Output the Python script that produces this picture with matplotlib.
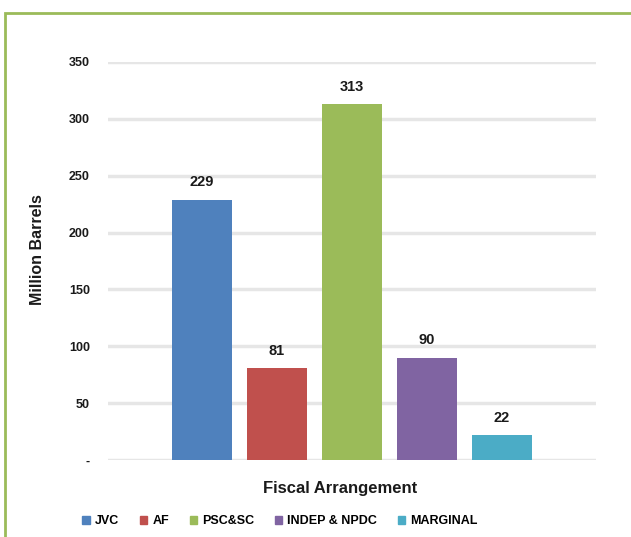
import matplotlib.pyplot as plt
import matplotlib.patches as mpatches
import numpy as np

# data
categories = ['JVC', 'AF', 'PSC&SC', 'INDEP & NPDC', 'MARGINAL']
reserves = [229, 81, 313, 90, 22]
colors = ['#4f81bd', '#c0504d', '#9bbb59', '#8064a2', '#4bacc6']
yticks = [0, 50, 100, 150, 200, 250, 300, 350]
ytick_labels = ['-', '50', '100', '150', '200', '250', '300', '350']

plt.rcParams['font.family'] = ['Liberation Sans', 'DejaVu Sans']

fig = plt.figure(figsize=(6.31, 5.37), dpi=100)

# green frame around the chart
frame = mpatches.Rectangle((5 / 631, -0.05), 1.0, 1 - 13 / 537 + 0.05,
                           transform=fig.transFigure, fill=False,
                           edgecolor='#9bbb59', linewidth=2)
fig.patches.append(frame)

ax = fig.add_axes([108 / 631, 1 - 460 / 537, 488 / 631, 398 / 537])

x = np.arange(len(categories))
bars = ax.bar(x, reserves, width=0.787, color=colors)

for xi, v in zip(x, reserves):
    ax.text(xi, v + 9, str(v), ha='center', va='bottom',
            fontsize=10.5, fontweight='bold', color='#1a1a1a')

ax.set_xlim(-1.253, 5.253)
ax.set_ylim(0, 350)
ax.set_yticks(yticks)
ax.set_yticklabels(ytick_labels, fontsize=9, fontweight='bold', color='#1a1a1a')
ax.set_xticks([])
ax.tick_params(axis='y', length=0, pad=13)

ax.grid(axis='y', color='#e6e6e6', linewidth=2.5)
ax.set_axisbelow(True)
for s in ax.spines.values():
    s.set_visible(False)

fig.text(38 / 631, 1 - 250 / 537, 'Million Barrels', ha='center', va='center',
         rotation=90, fontsize=11.5, fontweight='bold', color='#1a1a1a')
fig.text(340 / 631, 1 - 488 / 537, 'Fiscal Arrangement', ha='center', va='center',
         fontsize=12, fontweight='bold', color='#1a1a1a')

handles = [mpatches.Patch(color=c, label=l) for c, l in zip(colors, categories)]
leg = fig.legend(handles=handles, loc='center', bbox_to_anchor=(280 / 631, 1 - 521 / 537),
                 ncol=5, frameon=False, handlelength=0.6, handleheight=0.6,
                 handletextpad=0.4, columnspacing=1.65,
                 prop={'weight': 'bold', 'size': 9})

fig.savefig('out.png', dpi=100)
